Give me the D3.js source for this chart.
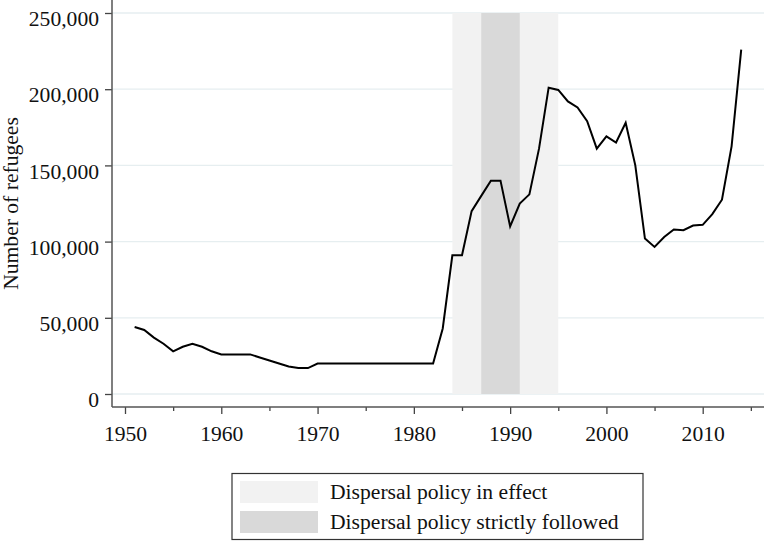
<!DOCTYPE html>
<html>
<head>
<meta charset="utf-8">
<script src="https://cdn.jsdelivr.net/npm/d3@7"></script>
<style>
  html, body { margin: 0; padding: 0; background: #ffffff; }
  svg { display: block; }
  text { font-family: "Liberation Serif", "DejaVu Serif", serif; fill: #111; }
</style>
</head>
<body>
<svg id="chart" width="764" height="541"></svg>
<script>
// ---- data ----
const years = [1951,1952,1953,1954,1955,1956,1957,1958,1959,1960,
               1961,1962,1963,1964,1965,1966,1967,1968,1969,1970,
               1971,1972,1973,1974,1975,1976,1977,1978,1979,1980,
               1981,1982,1983,1984,1985,1986,1987,1988,1989,1990,
               1991,1992,1993,1994,1995,1996,1997,1998,1999,2000,
               2001,2002,2003,2004,2005,2006,2007,2008,2009,2010,
               2011,2012,2013,2014];
const refugees = [44000,42000,37000,33000,28000,31000,33000,31000,28000,26000,
                  26000,26000,26000,24000,22000,20000,18000,17000,17000,20000,
                  20000,20000,20000,20000,20000,20000,20000,20000,20000,20000,
                  20000,20000,43000,91000,91000,120000,130000,140000,140000,110000,
                  125000,131000,161000,201000,199500,192000,188000,179000,161000,169000,
                  165000,178000,150000,102000,96500,103000,108000,107500,110500,111000,
                  118000,127500,162500,226000];
const bandLabels = ["Dispersal policy in effect", "Dispersal policy strictly followed"];
const bandStart = [1984, 1987];
const bandEnd = [1995, 1991];
const bandColors = ["#f2f2f2", "#d9d9d9"];
const xMajorTicks = [1950,1960,1970,1980,1990,2000,2010];
const xMinorTicks = [1955,1965,1975,1985,1995,2005,2015];
const yTicks = [0,50000,100000,150000,200000,250000];

// ---- layout ----
const svg = d3.select("#chart");
const x = d3.scaleLinear().domain([1950, 2010]).range([125, 702.7]);
const y = d3.scaleLinear().domain([0, 250000]).range([394, 13]);
const axisLeftX = 112, axisBottomY = 407, rightEdge = 764;
const fmt = d3.format(",");
const FS = 20;

// grid
svg.append("g").selectAll("line").data(yTicks).join("line")
  .attr("x1", axisLeftX).attr("x2", rightEdge)
  .attr("y1", d => y(d)).attr("y2", d => y(d))
  .attr("stroke", "#e6eef0").attr("stroke-width", 1.3);

// bands
svg.append("g").selectAll("rect").data(bandStart).join("rect")
  .attr("x", (d, i) => x(bandStart[i]))
  .attr("width", (d, i) => x(bandEnd[i]) - x(bandStart[i]))
  .attr("y", y(250000))
  .attr("height", y(0) - y(250000))
  .attr("fill", (d, i) => bandColors[i]);

// line
const line = d3.line().x((d, i) => x(years[i])).y(d => y(d));
svg.append("path").datum(refugees)
  .attr("d", line)
  .attr("fill", "none").attr("stroke", "#000").attr("stroke-width", 2)
  .attr("stroke-linejoin", "miter");

// y axis
const yAxis = svg.append("g").attr("transform", `translate(${axisLeftX},0)`)
  .call(d3.axisLeft(y).tickValues(yTicks).tickSize(7).tickPadding(6).tickFormat(fmt));
yAxis.select(".domain").remove();
yAxis.selectAll(".tick line").attr("stroke", "#444").attr("stroke-width", 1.3);
yAxis.selectAll(".tick text").attr("font-size", FS).attr("dy", "0.63em")
  .attr("font-family", "Liberation Serif, serif").attr("fill", "#111");
svg.append("line").attr("x1", axisLeftX).attr("x2", axisLeftX)
  .attr("y1", 0).attr("y2", axisBottomY).attr("stroke", "#555").attr("stroke-width", 1.5);

// x axis
const xAxis = svg.append("g").attr("transform", `translate(0,${axisBottomY})`)
  .call(d3.axisBottom(x).tickValues(xMajorTicks).tickSize(7).tickPadding(13).tickFormat(d3.format("d")));
xAxis.select(".domain").remove();
xAxis.selectAll(".tick line").attr("stroke", "#444").attr("stroke-width", 1.3);
xAxis.selectAll(".tick text").attr("font-size", FS)
  .attr("font-family", "Liberation Serif, serif").attr("fill", "#111");
const xMinor = svg.append("g").attr("transform", `translate(0,${axisBottomY})`)
  .call(d3.axisBottom(x).tickValues(xMinorTicks).tickSize(4).tickFormat(""));
xMinor.select(".domain").remove();
xMinor.selectAll(".tick line").attr("stroke", "#444").attr("stroke-width", 1.3);
svg.append("line").attr("x1", axisLeftX).attr("x2", rightEdge)
  .attr("y1", axisBottomY).attr("y2", axisBottomY).attr("stroke", "#555").attr("stroke-width", 1.5);

// y title
svg.append("text")
  .attr("transform", `translate(18,${(y(0) + y(250000)) / 2}) rotate(-90)`)
  .attr("text-anchor", "middle")
  .attr("font-size", FS)
  .text("Number of refugees");

// legend
const lg = svg.append("g");
lg.append("rect").attr("x", 232).attr("y", 473.5).attr("width", 411).attr("height", 66)
  .attr("fill", "#fff").attr("stroke", "#333").attr("stroke-width", 1.2);
const rows = lg.selectAll("g.row").data(bandLabels).join("g").attr("class", "row")
  .attr("transform", (d, i) => `translate(0,${481 + i * 30})`);
rows.append("rect").attr("x", 240).attr("y", 0).attr("width", 78).attr("height", 22)
  .attr("fill", (d, i) => bandColors[i]);
rows.append("text").attr("x", 330).attr("y", 18).attr("font-size", FS).text(d => d);

// widen glyphs slightly to approximate the wider Computer Modern face
svg.selectAll("text").each(function () {
  const t = d3.select(this);
  if (!t.text()) return;
  const w = this.getComputedTextLength();
  t.attr("textLength", w * 1.08).attr("lengthAdjust", "spacingAndGlyphs");
});
</script>
</body>
</html>
